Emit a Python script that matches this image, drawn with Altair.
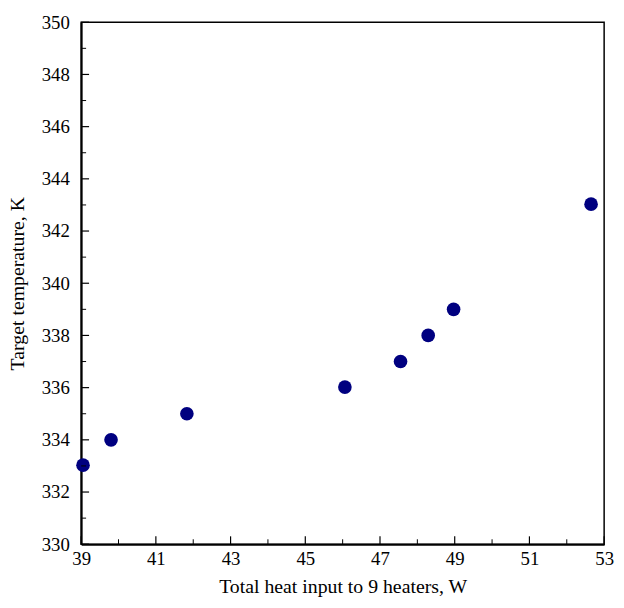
import altair as alt
import pandas as pd

heat = [39.05, 39.8, 41.83, 46.06, 47.55, 48.29, 48.97, 52.65]
temp = [333.03, 334.0, 335.0, 336.02, 337.0, 338.0, 339.0, 343.03]

x_major = [39, 41, 43, 45, 47, 49, 51, 53]
x_minor = [40, 42, 44, 46, 48, 50, 52]
y_major = [330, 332, 334, 336, 338, 340, 342, 344, 346, 348, 350]
y_minor = [331, 333, 335, 337, 339, 341, 343, 345, 347, 349]

df = pd.DataFrame({"heat": heat, "temp": temp})
font = "Liberation Serif"

xs = alt.Scale(domain=[39, 53], nice=False, zero=False)
ys = alt.Scale(domain=[330, 350], nice=False, zero=False)

common = dict(ticks=False, grid=False, domainWidth=2, domainColor="black",
              labelFont=font, titleFont=font, labelFontSize=19, titleFontSize=20,
              labelColor="black", titleColor="black", titleFontWeight="normal",
              labelFlush=False, labelOverlap=False)
x_axis = alt.Axis(values=x_major, labelPadding=5, titlePadding=9, **common)
y_axis = alt.Axis(values=y_major, labelPadding=12, titlePadding=14, **common)
x_title = "Total heat input to 9 heaters, W"
y_title = "Target temperature, K"

points = alt.Chart(df).mark_circle(size=190, color="#000080", opacity=1).encode(
    x=alt.X("heat:Q", scale=xs, title=x_title, axis=x_axis),
    y=alt.Y("temp:Q", scale=ys, title=y_title, axis=y_axis),
)

xmaj = alt.Chart(pd.DataFrame({"v": x_major})).mark_rule(color="black", strokeWidth=1.2).encode(
    x=alt.X("v:Q", scale=xs, title=x_title, axis=x_axis), y=alt.value(528), y2=alt.value(520))
xmin = alt.Chart(pd.DataFrame({"v": x_minor})).mark_rule(color="black", strokeWidth=1).encode(
    x=alt.X("v:Q", scale=xs, title=x_title, axis=x_axis), y=alt.value(528), y2=alt.value(523))
ymaj = alt.Chart(pd.DataFrame({"v": y_major})).mark_rule(color="black", strokeWidth=1.2).encode(
    y=alt.Y("v:Q", scale=ys, title=y_title, axis=y_axis), x=alt.value(0), x2=alt.value(8))
ymin = alt.Chart(pd.DataFrame({"v": y_minor})).mark_rule(color="black", strokeWidth=1).encode(
    y=alt.Y("v:Q", scale=ys, title=y_title, axis=y_axis), x=alt.value(0), x2=alt.value(5))

chart = alt.layer(points, xmaj, xmin, ymaj, ymin).properties(
    width=529, height=528,
    background="white",
    autosize=alt.AutoSizeParams(type="none"),
    padding={"left": 74, "top": 11, "right": 12, "bottom": 53},
).configure_view(stroke="black", strokeWidth=1.5).configure_axis(
    ticks=False, grid=False, domainWidth=2, domainColor="black",
    labelFont=font, titleFont=font, labelFontSize=19, titleFontSize=20,
    labelColor="black", titleColor="black", titleFontWeight="normal",
    labelFlush=False, labelOverlap=False,
)

chart.save("out.html", embed_options={"renderer": "svg", "actions": False})
